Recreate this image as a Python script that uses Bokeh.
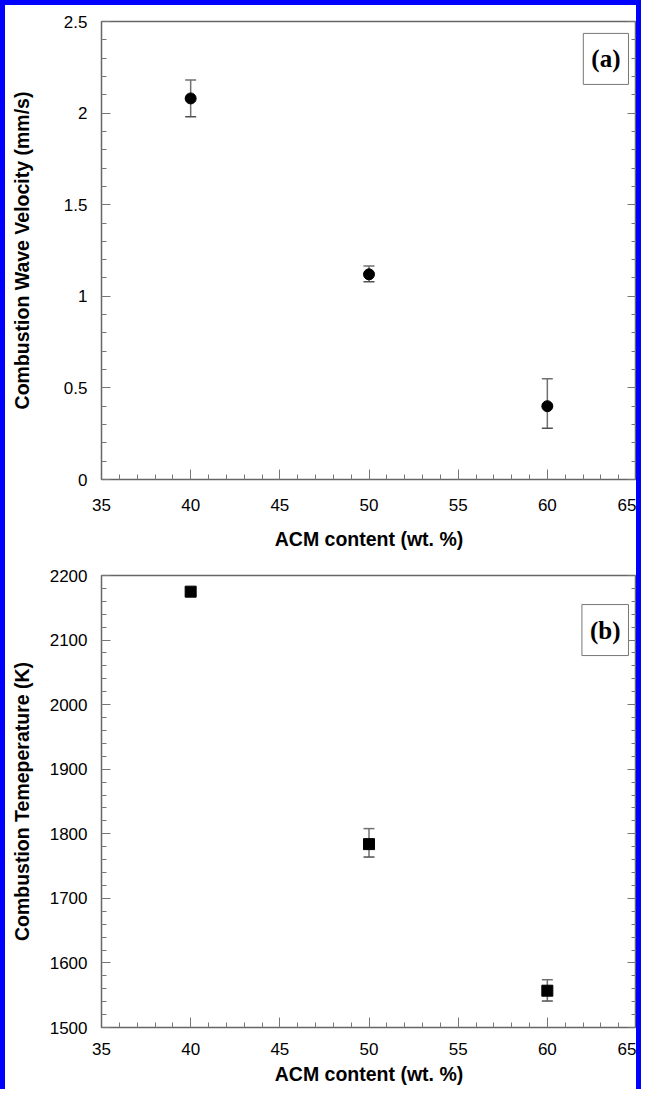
import numpy as np
from bokeh.plotting import figure
from bokeh.layouts import column, row
from bokeh.models import (ColumnDataSource, Whisker, TeeHead, LinearAxis, FixedTicker,
                          Label, Range1d, Div)
from bokeh.embed import file_html
from bokeh.resources import INLINE

# ---- data ----
acm = [40, 50, 60]
velocity = [2.08, 1.12, 0.40]
velocity_low = [1.98, 1.08, 0.28]
velocity_high = [2.18, 1.165, 0.55]

temperature = [2175, 1784, 1557]
temperature_low = [2170, 1764, 1541]
temperature_high = [2180, 1808, 1574]

x_ticks = [35, 40, 45, 50, 55, 60, 65]
vel_ticks = [0, 0.5, 1, 1.5, 2, 2.5]
vel_tick_labels = ["0", "0.5", "1", "1.5", "2", "2.5"]
temp_ticks = [1500, 1600, 1700, 1800, 1900, 2000, 2100, 2200]

x_label = "ACM content (wt. %)"
vel_label = "Combustion Wave Velocity (mm/s)"
temp_label = "Combustion Temeperature (K)"

SANS = "Liberation Sans"
SERIF = "Liberation Serif"
TICK_COL = "#777777"
BLUE = "#0000ff"
W = 631
HA, HB = 550, 534


def style_axis(ax, major_in, minor_in):
    ax.major_tick_in = major_in
    ax.major_tick_out = 0
    ax.minor_tick_in = minor_in
    ax.minor_tick_out = 0
    ax.major_tick_line_color = TICK_COL
    ax.minor_tick_line_color = TICK_COL
    ax.axis_line_color = "#666666"
    ax.major_label_text_font = SANS
    ax.major_label_text_font_size = "17px"
    ax.major_label_text_color = "#000000"
    ax.axis_label_text_font = SANS
    ax.axis_label_text_font_style = "bold"
    ax.axis_label_text_font_size = "19.5px"
    ax.axis_label_text_color = "#000000"


def make_label(tag, x, y):
    kw = dict(x=x, y=y, text=tag, anchor="top_right",
              text_font=SERIF, text_font_style="bold", text_font_size="25px",
              text_color="black",
              border_line_color="#777777", border_line_width=1,
              background_fill_color="white")
    try:
        return Label(padding=dict(left=8, right=8, top=12, bottom=12), **kw)
    except Exception:
        return Label(padding=9, **kw)


def make_panel(y, ylow, yhigh, yrange, yticks, ylabels, yminor, ylab, marker,
               height, top, bottom, tag, tag_y, y_standoff, x_lab_standoff, x_standoff):
    p = figure(width=W, height=height, output_backend="svg", toolbar_location=None,
               x_range=Range1d(35, 65), y_range=Range1d(*yrange),
               min_border_left=96, min_border_right=0,
               min_border_top=top, min_border_bottom=bottom)
    p.grid.visible = False
    p.outline_line_color = "#666666"
    p.outline_line_width = 1.5
    p.background_fill_color = "white"
    p.border_fill_color = "white"

    xt = FixedTicker(ticks=x_ticks, minor_ticks=list(np.arange(35, 66, 1)))
    yt = FixedTicker(ticks=yticks, minor_ticks=yminor)

    p.xaxis.ticker = xt
    p.xaxis.axis_label = x_label
    p.xaxis.major_label_standoff = x_lab_standoff
    p.xaxis.axis_label_standoff = x_standoff
    style_axis(p.xaxis[0], 10, 5)

    p.yaxis.ticker = yt
    p.yaxis.axis_label = ylab
    p.yaxis.major_label_standoff = 14
    p.yaxis.axis_label_standoff = y_standoff
    if ylabels is not None:
        p.yaxis.major_label_overrides = {t: l for t, l in zip(yticks, ylabels)}
    style_axis(p.yaxis[0], 9, 5)

    # mirrored inward ticks on the right side, no labels
    ra = LinearAxis(ticker=yt)
    style_axis(ra, 9, 5)
    ra.major_label_overrides = {t: "" for t in yticks}
    ra.major_label_standoff = 0
    p.add_layout(ra, "right")

    src = ColumnDataSource(dict(x=acm, y=y, lo=ylow, hi=yhigh))
    wh = Whisker(source=src, base="x", upper="hi", lower="lo", level="underlay",
                 line_color="#707070", line_width=1.5,
                 upper_head=TeeHead(size=11, line_color="#707070", line_width=1.5),
                 lower_head=TeeHead(size=11, line_color="#505050", line_width=1.5))
    p.add_layout(wh)
    p.scatter("x", "y", source=src, marker=marker, size=11,
              fill_color="black", line_color="black")

    p.add_layout(make_label(tag, 64.55, tag_y))
    return p


pa = make_panel(velocity, velocity_low, velocity_high, (0, 2.5), vel_ticks,
                vel_tick_labels, list(np.round(np.arange(0, 2.51, 0.1), 2)), vel_label,
                "circle", HA, 16, 76, "(a)", 2.435, 28, 19, 14)
pb = make_panel(temperature, temperature_low, temperature_high, (1500, 2200), temp_ticks,
                None, list(np.arange(1500, 2201, 20)), temp_label,
                "square", HB, 20, 62, "(b)", 2155, 14, 15, 5)

bar_top = Div(text="", width=W + 10, height=5, margin=0,
              styles={"background-color": BLUE})
bar_left = Div(text="", width=5, height=HA + HB, margin=0,
               styles={"background-color": BLUE})
bar_right = Div(text="", width=5, height=HA + HB, margin=0,
                styles={"background-color": BLUE})

layout = column(bar_top, row(bar_left, column(pa, pb, spacing=0), bar_right, spacing=0),
                spacing=0)

open("out.html", "w").write(file_html(layout, INLINE))
